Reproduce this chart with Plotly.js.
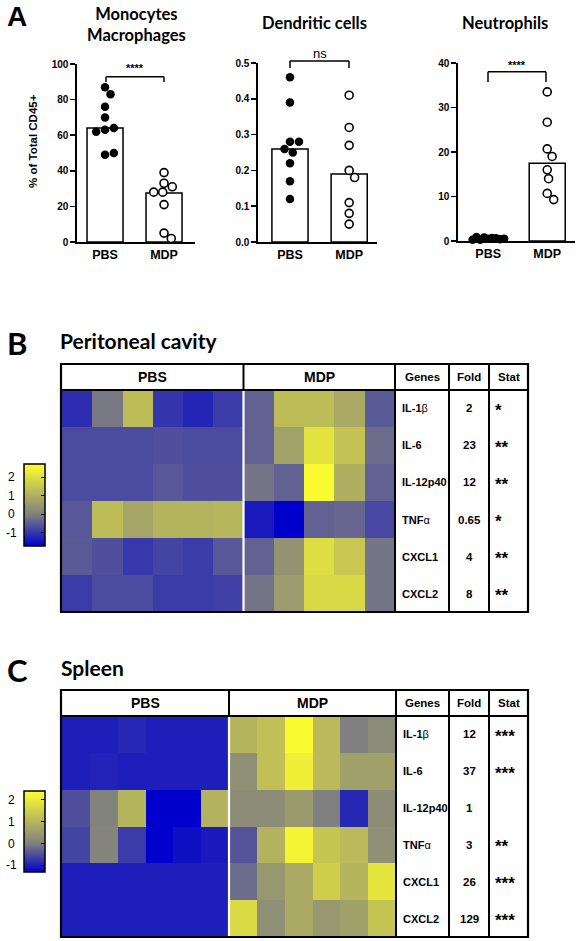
<!DOCTYPE html>
<html>
<head>
<meta charset="utf-8">
<script src="https://cdn.plot.ly/plotly-3.0.1.min.js"></script>
<style>
  html, body { margin: 0; padding: 0; background: #fff; }
  #fig { width: 577px; height: 941px; }
</style>
</head>
<body>
<div id="fig"></div>
<script>
// ---------- Data ----------
const groups = ['PBS', 'MDP'];

// % of total CD45+ cells per animal, bar = median
const monoPBS = [87, 83, 76, 70, 63, 64, 62, 49, 50];
const monoMDP = [39, 33, 31, 28, 28, 21, 5, 2];
const monoBar = [64, 27.5];

const dcPBS = [0.46, 0.39, 0.28, 0.28, 0.26, 0.25, 0.22, 0.17, 0.12];
const dcMDP = [0.41, 0.32, 0.27, 0.20, 0.18, 0.11, 0.08, 0.05];
const dcBar = [0.26, 0.19];

const neuPBS = [0.5, 0.7, 0.8, 0.3, 0.6, 0.9, 0.4, 0.3, 0.5];
const neuMDP = [33.5, 26.7, 20.7, 19.0, 16.0, 14.0, 10.7, 9.3];
const neuBar = [0.5, 17.5];

const panelTitles = ['Monocytes<br>Macrophages', 'Dendritic cells', 'Neutrophils'];
const sigLabels = ['****', 'ns', '****'];

// Gene expression z-scores (rows = genes, cols = animals)
const genes = ['IL-1β', 'IL-6', 'IL-12p40', 'TNFα', 'CXCL1', 'CXCL2'];

const peritPBSn = 6, peritMDPn = 5;
const peritZ = [
  [-1.1, -0.1, 1.3, -1.0, -1.2, -0.9,   -0.4, 1.3, 1.3, 0.9, -0.5],
  [-0.7, -0.7, -0.7, -0.65, -0.7, -0.7, -0.4, 0.7, 2.1, 1.4, -0.25],
  [-0.7, -0.7, -0.7, -0.55, -0.65, -0.65, -0.15, -0.4, 2.6, 1.0, -0.4],
  [-0.55, 1.3, 0.8, 1.1, 1.1, 1.15,   -1.35, -1.7, -0.4, -0.35, -0.75],
  [-0.5, -0.65, -0.95, -0.8, -0.9, -0.55, -0.4, 0.4, 2.0, 1.5, -0.15],
  [-0.9, -0.7, -0.7, -0.9, -0.9, -0.85, -0.15, 0.6, 1.9, 1.9, -0.15]
];
const peritFold = ['2', '23', '12', '0.65', '4', '8'];
const peritStat = ['*', '**', '**', '*', '**', '**'];

const spleenPBSn = 6, spleenMDPn = 6;
const spleenZ = [
  [-1.0, -1.0, -0.9, -1.0, -1.0, -1.0,   1.0, 1.2, 2.3, 1.1, 0.0, 0.2],
  [-1.0, -0.95, -1.0, -1.0, -1.0, -1.0,  0.3, 1.2, 2.1, 1.1, 0.6, 0.6],
  [-0.5, 0.05, 1.0, -1.3, -1.3, 0.95,    0.25, 0.25, 0.5, 0.0, -0.9, 0.25],
  [-0.6, 0.1, -0.7, -1.3, -1.15, -1.05,  -0.45, 0.95, 2.2, 1.3, 1.1, 0.3],
  [-1.0, -1.0, -1.0, -1.0, -1.0, -1.0,   -0.2, 0.45, 0.8, 1.5, 1.0, 1.9],
  [-1.0, -1.0, -1.0, -1.0, -1.0, -1.0,   1.7, 0.3, 0.8, 0.45, 0.6, 1.3]
];
const spleenFold = ['12', '37', '1', '3', '26', '129'];
const spleenStat = ['***', '***', '', '**', '***', '***'];

const cbTicks = [-1, 0, 1, 2];

// ---------- Layout helpers (pixel -> paper) ----------
const W = 577, H = 941;
const px = v => v / W;
const py = v => 1 - v / H;
const FONT = '"Liberation Sans", Arial, sans-serif';
const HEAD = 'Lato, "Open Sans", sans-serif';

// subplot frames for the three dot plots
const dotPanels = [
  {s: '',  x0: 77,  x1: 195, yb: 242, yt: 64, xr: [-0.475, 1.525], yr: [0, 100], dtick: 20, fmt: '',
   pbs: monoPBS, mdp: monoMDP, bar: monoBar, titleX: 136, titleY: 24,
   br: {xa: 106, xb: 164, top: 76.7, end: 82, lab: 68}},
  {s: '2', x0: 258, x1: 377, yb: 242, yt: 63, xr: [-0.54, 1.47], yr: [0, 0.5], dtick: 0.1, fmt: '.1f',
   pbs: dcPBS, mdp: dcMDP, bar: dcBar, titleX: 314, titleY: 23,
   br: {xa: 290, xb: 349, top: 61, end: 68, lab: 53}},
  {s: '3', x0: 458, x1: 575, yb: 241, yt: 63, xr: [-0.51, 1.47], yr: [0, 40], dtick: 10, fmt: '',
   pbs: neuPBS, mdp: neuMDP, bar: neuBar, titleX: 505, titleY: 23,
   br: {xa: 488, xb: 546, top: 71.7, end: 82, lab: 65}}
];

// simple beeswarm: horizontal pixel offsets so that markers do not overlap
function swarm(vals, pxPerY, d, maxHalf) {
  const placed = [];
  vals.forEach(v => {
    const y = v * pxPerY;
    const cands = [0];
    placed.forEach(p => {
      const dy = Math.abs(p.y - y);
      if (dy < d) { const dx = Math.sqrt(d * d - dy * dy); cands.push(p.x + dx, p.x - dx); }
    });
    cands.sort((a, b) => Math.abs(a) - Math.abs(b));
    let best = 0;
    for (const c of cands) {
      if (placed.every(p => Math.hypot(p.x - c, p.y - y) >= d - 1e-6)) { best = c; break; }
    }
    placed.push({x: best, y});
  });
  const m = Math.max(...placed.map(p => Math.abs(p.x)));
  const s = m > maxHalf ? maxHalf / m : 1;
  return placed.map(p => p.x * s);
}

const traces = [];
const layout = {
  width: W, height: H, autosize: false,
  margin: {l: 0, r: 0, t: 0, b: 0},
  paper_bgcolor: '#fff', plot_bgcolor: 'rgba(0,0,0,0)',
  showlegend: false,
  font: {family: FONT, color: '#000'},
  shapes: [], annotations: []
};

dotPanels.forEach(p => {
  const xa = 'x' + p.s, ya = 'y' + p.s;
  const wpx = p.x1 - p.x0, hpx = p.yb - p.yt;
  const pxPerX = wpx / (p.xr[1] - p.xr[0]);
  const pxPerY = hpx / (p.yr[1] - p.yr[0]);

  layout['xaxis' + p.s] = {
    domain: [px(p.x0), px(p.x1)], range: p.xr, anchor: ya,
    tickvals: [0, 1], ticktext: groups, ticks: '',
    showline: true, linecolor: '#000', linewidth: 1.6,
    showgrid: false, zeroline: false, fixedrange: true,
    tickfont: {family: FONT, size: 12.5, weight: 700, color: '#000'}
  };
  layout['yaxis' + p.s] = {
    domain: [py(p.yb), py(p.yt)], range: p.yr, anchor: xa,
    dtick: p.dtick, tick0: 0, tickformat: p.fmt,
    ticks: 'outside', ticklen: 5, tickwidth: 1.5, tickcolor: '#000',
    showline: true, linecolor: '#000', linewidth: 1.6,
    showgrid: false, zeroline: false, fixedrange: true,
    tickfont: {family: FONT, size: 10, weight: 700, color: '#000'}
  };

  traces.push({
    type: 'bar', x: [0, 1], y: p.bar, xaxis: xa, yaxis: ya, width: 0.61,
    marker: {color: '#fff', line: {color: '#000', width: 1.5}}, hoverinfo: 'skip'
  });
  const offP = swarm(p.pbs, pxPerY, 9, 16).map(o => o / pxPerX);
  const offM = swarm(p.mdp, pxPerY, 9, 16).map(o => o / pxPerX);
  traces.push({
    type: 'scatter', mode: 'markers', xaxis: xa, yaxis: ya, cliponaxis: false,
    x: offP.map(o => 0 + o), y: p.pbs,
    marker: {size: 8.5, color: '#000', line: {width: 0}}
  });
  traces.push({
    type: 'scatter', mode: 'markers', xaxis: xa, yaxis: ya, cliponaxis: false,
    x: offM.map(o => 1 + o), y: p.mdp,
    marker: {size: 8, color: '#fff', line: {width: 1.6, color: '#000'}}
  });
});

// significance brackets + titles for the dot plots
dotPanels.forEach((p, i) => {
  const b = p.br;
  const L = (x0, y0, x1, y1) => layout.shapes.push({
    type: 'line', xref: 'paper', yref: 'paper',
    x0: px(x0), y0: py(y0), x1: px(x1), y1: py(y1), line: {color: '#000', width: 1.5}
  });
  L(b.xa, b.top, b.xb, b.top);
  L(b.xa, b.top, b.xa, b.end);
  L(b.xb, b.top, b.xb, b.end);
  const isNs = sigLabels[i] === 'ns';
  layout.annotations.push({
    xref: 'paper', yref: 'paper', x: px((b.xa + b.xb) / 2), y: py(b.lab),
    text: sigLabels[i], showarrow: false, xanchor: 'center', yanchor: 'middle',
    font: {family: FONT, size: isNs ? 13 : 11, weight: isNs ? 400 : 700}
  });
  layout.annotations.push({
    xref: 'paper', yref: 'paper', x: px(p.titleX), y: py(p.titleY),
    text: panelTitles[i], showarrow: false, xanchor: 'center', yanchor: 'middle',
    font: {family: HEAD, size: 16.5, weight: 700}
  });
});

layout.annotations.push({
  xref: 'paper', yref: 'paper', x: px(33), y: py(141), textangle: -90,
  text: '% of Total CD45+', showarrow: false, xanchor: 'center', yanchor: 'middle',
  font: {family: FONT, size: 11.5, weight: 700}
});

// panel letters and section headings
[['A', 17, 17, FONT, 28], ['B', 17, 343, HEAD, 31], ['C', 17, 670, HEAD, 31]].forEach(t => {
  layout.annotations.push({
    xref: 'paper', yref: 'paper', x: px(t[1]), y: py(t[2]), text: t[0], showarrow: false,
    xanchor: 'center', yanchor: 'middle', font: {family: t[3], size: t[4], weight: 700}
  });
});
[['Peritoneal cavity', 58, 340], ['Spleen', 59, 667]].forEach(t => {
  layout.annotations.push({
    xref: 'paper', yref: 'paper', x: px(t[1]), y: py(t[2]), text: t[0], showarrow: false,
    xanchor: 'left', yanchor: 'middle', font: {family: HEAD, size: 21, weight: 700}
  });
});

// ---------- Heatmap tables ----------
function geneLabel(g) { return g.replace(/([^αβ]+)/g, '<b>$1</b>'); }

function colorscaleFor(zmin, zmax) {
  const f0 = (0 - zmin) / (zmax - zmin);
  return [[0, 'rgb(0,0,205)'], [f0, 'rgb(128,128,128)'], [1, 'rgb(255,255,45)']];
}

function heatTable(cfg) {
  const {s, z, nP, nM, fold, stat, top, head, bot, left, split, right, cGenes, cFold, cStat, zmin, zmax, cb} = cfg;
  const ncol = nP + nM;
  layout['xaxis' + s] = {domain: [px(left), px(right)], range: [-0.5, ncol - 0.5], visible: false, anchor: 'y' + s, fixedrange: true};
  layout['yaxis' + s] = {domain: [py(bot), py(head)], range: [z.length - 0.5, -0.5], visible: false, anchor: 'x' + s, fixedrange: true};
  traces.push({
    type: 'heatmap', z: z, x: [...Array(ncol).keys()], y: [...Array(z.length).keys()],
    xaxis: 'x' + s, yaxis: 'y' + s, zmin, zmax, colorscale: colorscaleFor(zmin, zmax),
    hoverinfo: 'skip',
    colorbar: {
      x: px(24), xanchor: 'left', xpad: 0, y: py((cb.top + cb.bot) / 2), yanchor: 'middle', ypad: 0,
      len: cb.bot - cb.top, lenmode: 'pixels', thickness: 21, thicknessmode: 'pixels',
      outlinewidth: 1.5, outlinecolor: '#000', ticks: 'inside', ticklen: 4, tickwidth: 1,
      tickcolor: '#000', tickvals: cbTicks, showticklabels: false
    }
  });
  // colorbar labels
  cbTicks.forEach(v => {
    const yy = cb.top + (zmax - v) / (zmax - zmin) * (cb.bot - cb.top);
    layout.annotations.push({
      xref: 'paper', yref: 'paper', x: px(11.5), y: py(yy), text: String(v), showarrow: false,
      xanchor: 'center', yanchor: 'middle', font: {family: FONT, size: 12}
    });
  });

  const L = (x0, y0, x1, y1, c, w) => layout.shapes.push({
    type: 'line', xref: 'paper', yref: 'paper', x0: px(x0), y0: py(y0), x1: px(x1), y1: py(y1),
    line: {color: c, width: w}
  });
  L(split, head, split, bot, '#fff', 2.2);
  L(left - 1, head, cStat[1], head, '#000', 2);
  L(split, top, split, head, '#000', 2);
  [right, cGenes[1], cFold[1]].forEach(xv => L(xv, top, xv, bot, '#000', 2));
  layout.shapes.push({
    type: 'rect', xref: 'paper', yref: 'paper', x0: px(left - 1), y0: py(bot), x1: px(cStat[1]), y1: py(top),
    line: {color: '#000', width: 2.2}
  });

  const hy = (top + head) / 2;
  const headTxt = (t, x, size) => layout.annotations.push({
    xref: 'paper', yref: 'paper', x: px(x), y: py(hy), text: t, showarrow: false,
    xanchor: 'center', yanchor: 'middle', font: {family: FONT, size: size, weight: 700}
  });
  headTxt(groups[0], (left + split) / 2, 14);
  headTxt(groups[1], (split + right) / 2, 14);
  headTxt('Genes', (cGenes[0] + cGenes[1]) / 2, 11.5);
  headTxt('Fold', (cFold[0] + cFold[1]) / 2, 11.5);
  headTxt('Stat', (cStat[0] + cStat[1]) / 2, 11.5);

  genes.forEach((g, r) => {
    layout.annotations.push({
      xref: 'paper', yref: 'y' + s, x: px(cGenes[0] + 5), y: r, text: geneLabel(g), showarrow: false,
      xanchor: 'left', yanchor: 'middle', font: {family: FONT, size: 11}
    });
    layout.annotations.push({
      xref: 'paper', yref: 'y' + s, x: px((cFold[0] + cFold[1]) / 2), y: r, text: fold[r], showarrow: false,
      xanchor: 'center', yanchor: 'middle', font: {family: FONT, size: 11.5, weight: 700}
    });
    if (stat[r]) layout.annotations.push({
      xref: 'paper', yref: 'y' + s, x: px(cStat[0] + 4), y: r, yshift: -2, text: stat[r], showarrow: false,
      xanchor: 'left', yanchor: 'middle', font: {family: FONT, size: 17, weight: 700}
    });
  });
}

heatTable({
  s: '4', z: peritZ, nP: peritPBSn, nM: peritMDPn, fold: peritFold, stat: peritStat,
  top: 364, head: 390, bot: 612, left: 62, split: 243.5, right: 395,
  cGenes: [395, 449], cFold: [449, 489], cStat: [489, 528],
  zmin: -1.7, zmax: 2.7, cb: {top: 464, bot: 546}
});
heatTable({
  s: '5', z: spleenZ, nP: spleenPBSn, nM: spleenMDPn, fold: spleenFold, stat: spleenStat,
  top: 690, head: 716, bot: 937, left: 62, split: 229, right: 396,
  cGenes: [396, 449], cFold: [449, 489], cStat: [489, 528],
  zmin: -1.3, zmax: 2.4, cb: {top: 791, bot: 872}
});

Plotly.newPlot('fig', traces, layout, {staticPlot: true, displayModeBar: false});
</script>
</body>
</html>
